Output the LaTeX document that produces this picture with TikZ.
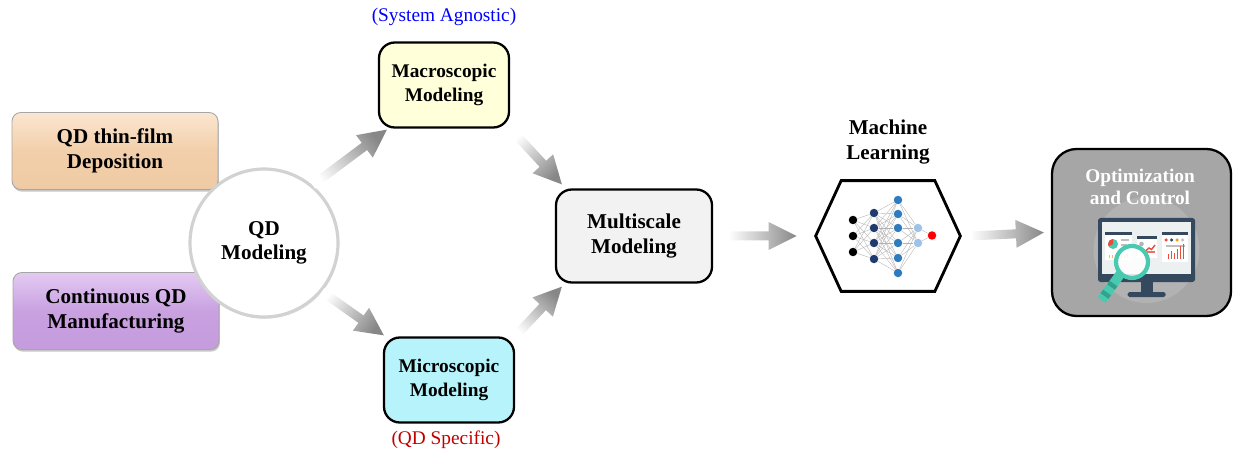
\documentclass[tikz,border=0pt]{standalone}
\usepackage{fontspec}
\setmainfont{Liberation Serif}
\usepackage{tikz}
\usetikzlibrary{calc,positioning,shadows,backgrounds}
\definecolor{ink}{HTML}{000000}
\definecolor{sand}{HTML}{F2CFAA}
\definecolor{sandlt}{HTML}{FBE6D0}
\definecolor{sanddk}{HTML}{DDB487}
\definecolor{lilac}{HTML}{C9A1E1}
\definecolor{lilaclt}{HTML}{E3CAF2}
\definecolor{lilacdk}{HTML}{AA82C6}
\definecolor{macrofill}{HTML}{FFFFD9}
\definecolor{microfill}{HTML}{B7F3FB}
\definecolor{multifill}{HTML}{F2F2F2}
\definecolor{optfill}{HTML}{A6A6A6}
\definecolor{agnostic}{HTML}{0000FF}
\definecolor{specific}{HTML}{C00000}
\definecolor{navy}{HTML}{1F3A6E}
\definecolor{midblue}{HTML}{2E7BC0}
\definecolor{paleblue}{HTML}{9DC3E6}
\definecolor{slate}{HTML}{34495E}
\definecolor{screen}{HTML}{ECF0F1}
\definecolor{loupe}{HTML}{48C9B0}
\definecolor{loupedk}{HTML}{2FA38C}
\definecolor{chartred}{HTML}{E74C3C}
\definecolor{chartorg}{HTML}{F39C12}
\tikzset{
  srcbox/.style={rounded corners=5pt,draw=black!35,line width=0.5pt,align=center,
    font=\fontsize{12}{14}\selectfont\bfseries,minimum width=4.12cm,minimum height=1.54cm,
    drop shadow={shadow xshift=0.5pt,shadow yshift=-1.2pt,opacity=0.45}},
  scalebox/.style={draw=ink,line width=1.3pt,rounded corners=9pt,align=center,
    font=\fontsize{11}{13.5}\selectfont\bfseries,minimum width=2.6cm,minimum height=1.7cm},
  hub/.style={circle,draw=gray!35,line width=1.8pt,fill=white,minimum size=2.96cm,align=center,
    font=\fontsize{12}{14}\selectfont\bfseries,
    drop shadow={shadow xshift=0.6pt,shadow yshift=-1pt,opacity=0.2}},
  note/.style={font=\fontsize{11}{13}\selectfont},
  title/.style={align=center,font=\fontsize{12}{14}\selectfont\bfseries},
  fatarrow/.style={draw=none,bottom color=white,top color=black!47},
  neuron/.style={circle,inner sep=0pt,minimum size=1.7mm},
  synapse/.style={draw=gray!60,line width=0.2pt}
}
% shaded block arrow: tail, head, shading angle
\newcommand{\fatarrow}[3]{%
  \coordinate (fa-t) at (#1);
  \coordinate (fa-h) at (#2);
  \coordinate (fa-n) at ($(fa-h)!0.56cm!(fa-t)$);
  \path[fatarrow,shading angle=#3]
    ($(fa-t)!0.09cm!90:(fa-h)$) -- ($(fa-n)!0.09cm!90:(fa-h)$) --
    ($(fa-n)!0.28cm!90:(fa-h)$) -- (fa-h) -- ($(fa-n)!0.28cm!-90:(fa-h)$) --
    ($(fa-n)!0.09cm!-90:(fa-h)$) -- ($(fa-t)!0.09cm!-90:(fa-h)$) -- cycle;
}

\begin{document}
\begin{tikzpicture}
  \useasboundingbox (0,0) rectangle (24.66,9.12);

  % inputs and the hub
  \node[srcbox,top color=sandlt,bottom color=sand!85!sanddk,middle color=sand] (film) at (2.30,6.10) {QD thin-film\\Deposition};
  \node[srcbox,top color=lilaclt,bottom color=lilac!85!lilacdk,middle color=lilac] (manuf) at (2.32,2.90) {Continuous QD\\Manufacturing};
  \node[hub] (qd) at (5.28,4.26) {QD\\Modeling};

  % modeling scales
  \node[scalebox,fill=macrofill] (macro) at (8.88,7.42) {Macroscopic\\Modeling};
  \node[note,text=agnostic] (agn) at (8.88,8.78) {(System Agnostic)};
  \node[scalebox,fill=microfill] (micro) at (8.98,1.52) {Microscopic\\Modeling};
  \node[note,text=specific] (spec) at (8.92,0.32) {(QD Specific)};
  \node[scalebox,fill=multifill,minimum width=3.12cm,minimum height=1.86cm,font=\fontsize{12}{14}\selectfont\bfseries] (multi) at (12.68,4.40) {Multiscale\\Modeling};

  % machine learning hexagon
  \node[title] (mltxt) at (17.76,6.28) {Machine\\Learning};
  \node[inner sep=0pt,minimum width=2.88cm,minimum height=2.2cm] (ml) at (17.76,4.40) {};
  \draw[line width=1.6pt,line join=miter] (ml.west) -- ([xshift=0.51cm]ml.north west) -- ([xshift=-0.51cm]ml.north east)
    -- (ml.east) -- ([xshift=-0.51cm]ml.south east) -- ([xshift=0.51cm]ml.south west) -- cycle;
  \foreach \i/\y in {1/0.32,2/0,3/-0.32}
    \node[neuron,fill=black] (a\i) at ($(ml)+(-0.70,\y)$) {};
  \foreach \i/\y in {1/0.46,2/0.16,3/-0.14,4/-0.46}
    \node[neuron,fill=navy] (b\i) at ($(ml)+(-0.28,\y)$) {};
  \foreach \i/\y in {1/0.72,2/0.44,3/0.16,4/-0.14,5/-0.44,6/-0.74}
    \node[neuron,fill=midblue] (c\i) at ($(ml)+(0.20,\y)$) {};
  \foreach \i/\y in {1/0.16,2/-0.14}
    \node[neuron,fill=paleblue] (d\i) at ($(ml)+(0.60,\y)$) {};
  \node[neuron,fill=red] (out) at ($(ml)+(0.88,0.01)$) {};
  \begin{pgfonlayer}{background}
    \foreach \i in {1,...,3} \foreach \j in {1,...,4} \draw[synapse] (a\i) -- (b\j);
    \foreach \i in {1,...,4} \foreach \j in {1,...,6} \draw[synapse] (b\i) -- (c\j);
    \foreach \i in {1,...,6} \foreach \j in {1,2} \draw[synapse] (c\i) -- (d\j);
    \foreach \i in {1,2} \draw[synapse] (d\i) -- (out);
  \end{pgfonlayer}

  % optimization and control
  \node[scalebox,fill=optfill,minimum width=3.58cm,minimum height=3.34cm,rounded corners=14pt] (opt) at (22.83,4.47) {};
  \coordinate (scr) at ($(opt.center)+(0.10,-0.35)$);
  \begin{scope}[shift={(scr)}]
    \fill[black!30] (0,0) circle (1.06);
    \fill[slate] (-0.12,-0.62) rectangle (0.12,-0.86);
    \fill[slate,rounded corners=1pt] (-0.38,-0.84) rectangle (0.38,-0.94);
    \fill[slate,rounded corners=1.5pt] (-0.97,-0.64) rectangle (0.97,0.64);
    \fill[screen] (-0.89,-0.48) rectangle (0.89,0.56);
    % left card
    \fill[white] (-0.83,-0.20) rectangle (-0.29,0.36);
    \fill[slate] (-0.83,0.30) rectangle (-0.29,0.36);
    \fill[loupe] (-0.67,0.12) circle (0.10);
    \fill[chartred] (-0.67,0.12) -- ++(90:0.10) arc (90:210:0.10) -- cycle;
    \draw[gray!50,line width=1.2pt] (-0.52,0.20) -- (-0.36,0.20) (-0.52,0.10) -- (-0.40,0.10);
    \foreach \x in {-0.76,-0.70,...,-0.40} \fill[chartorg!70] (\x,-0.10) rectangle ++(0.035,-0.06);
    % middle card
    \fill[white] (-0.19,-0.16) rectangle (0.21,0.28);
    \fill[slate] (-0.19,0.22) rectangle (0.21,0.28);
    \fill[gray!60] (-0.10,0.12) circle (0.045) (-0.10,0.02) circle (0.035);
    \draw[chartred,line width=0.8pt] (-0.02,-0.02) -- (0.05,0.04) -- (0.10,0.01) -- (0.17,0.10);
    \fill[chartred!80] (0.00,-0.06) rectangle (0.16,-0.03);
    % right card
    \fill[white] (0.31,-0.24) rectangle (0.83,0.36);
    \fill[slate] (0.31,0.30) rectangle (0.83,0.36);
    \fill[chartred] (0.39,0.20) circle (0.035);
    \fill[slate] (0.50,0.20) circle (0.035);
    \fill[chartorg] (0.61,0.20) circle (0.035);
    \fill[gray!50] (0.72,0.20) circle (0.035);
    \draw[gray!50,line width=0.6pt] (0.38,0.08) -- (0.76,0.08);
    \foreach \x/\h in {0.42/0.10,0.48/0.16,0.54/0.12,0.60/0.20,0.66/0.26,0.72/0.30}
      \fill[chartred] (\x,-0.19) rectangle ++(0.035,\h);
    % magnifier
    \draw[loupe,line width=5.5pt] (-0.50,-0.45) -- (-0.90,-1.00);
    \draw[loupedk,line width=5.5pt] (-0.66,-0.67) -- (-0.71,-0.74) (-0.79,-0.85) -- (-0.84,-0.92);
    \fill[white,opacity=0.85] (-0.29,-0.24) circle (0.29);
    \draw[loupe,line width=2.4pt] (-0.29,-0.24) circle (0.32);
  \end{scope}
  \node[title,text=white,font=\fontsize{11}{12.5}\selectfont\bfseries] (opttxt) at (22.80,5.38) {Optimization\\and Control};

  % flow arrows
  \fatarrow{qd.50}{[shift={(0.18,-0.02)}]macro.south west}{-53}
  \fatarrow{qd.-40}{[shift={(0.02,0.02)}]micro.north west}{-126}
  \fatarrow{[shift={(0.06,-0.06)}]macro.south east}{[shift={(0.14,0.08)}]multi.north west}{-137}
  \fatarrow{micro.north east}{[shift={(0.14,-0.06)}]multi.south west}{-43}
  \fatarrow{[xshift=0.30cm]multi.east}{[xshift=-0.38cm]ml.west}{-90}
  \fatarrow{[xshift=0.20cm]ml.east}{[xshift=-0.14cm]opt.west}{-90}
\end{tikzpicture}
\end{document}
